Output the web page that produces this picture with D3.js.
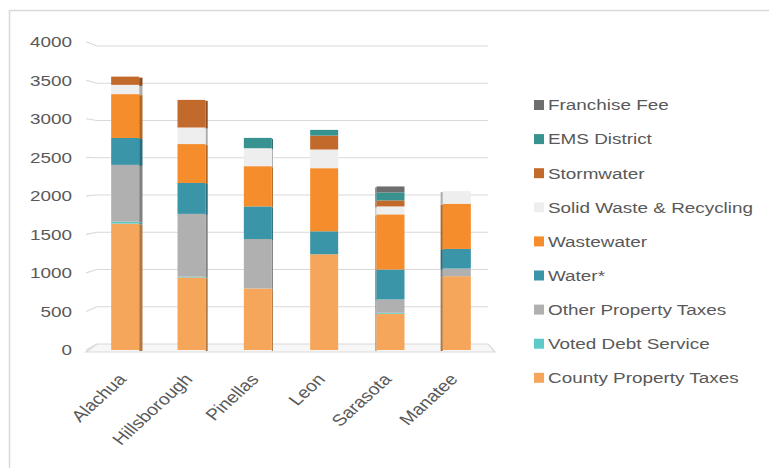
<!DOCTYPE html>
<html>
<head>
<meta charset="utf-8">
<script src="https://cdn.jsdelivr.net/npm/d3@7"></script>
<style>
  html, body { margin: 0; padding: 0; background: #fff; }
  svg { display: block; font-family: "Liberation Sans", Arial, sans-serif; }
</style>
</head>
<body>
<svg id="chart" width="769" height="468"></svg>
<script>
// Counties on the x axis
const counties = ["Alachua", "Hillsborough", "Pinellas", "Leon", "Sarasota", "Manatee"];

// Stacked components, bottom to top
const countyPropertyTaxes = [1640, 941, 798, 1242, 470, 958];
const votedDebtService    = [25, 10, 0, 0, 13, 0];
const otherPropertyTaxes  = [737, 815, 642, 0, 173, 99];
const water               = [349, 401, 423, 298, 388, 254];
const wastewater          = [569, 505, 522, 819, 716, 587];
const solidWaste          = [120, 215, 233, 242, 103, 163];
const stormwater          = [107, 358, 0, 181, 78, 0];
const emsDistrict         = [0, 0, 134, 74, 103, 0];
const franchiseFee        = [0, 0, 0, 0, 78, 0];

const yTicks = [0, 500, 1000, 1500, 2000, 2500, 3000, 3500, 4000];

const series = [
  { name: "County Property Taxes",     values: countyPropertyTaxes, color: "#f6a65a" },
  { name: "Voted Debt Service",        values: votedDebtService,    color: "#5ec9c9" },
  { name: "Other Property Taxes",      values: otherPropertyTaxes,  color: "#b0b0b0" },
  { name: "Water*",                    values: water,               color: "#3a95a8" },
  { name: "Wastewater",                values: wastewater,          color: "#f58d2d" },
  { name: "Solid Waste & Recycling",   values: solidWaste,          color: "#eeeeee" },
  { name: "Stormwater",                values: stormwater,          color: "#c2692c" },
  { name: "EMS District",              values: emsDistrict,         color: "#379290" },
  { name: "Franchise Fee",             values: franchiseFee,        color: "#6e6e6e" }
];

const svg = d3.select("#chart");
const textColor = "#595959";
const sx = 1.22; // horizontal text stretch

// outer frame
svg.append("rect")
  .attr("x", 9.5).attr("y", 10.5)
  .attr("width", 800).attr("height", 500)
  .attr("fill", "none").attr("stroke", "#d9d9d9").attr("stroke-width", 1.5);

// front-face value scale and back-wall scale (3D look)
const y = d3.scaleLinear().domain([0, 4000]).range([350, 41.7]);
const yWall = d3.scaleLinear().domain([0, 4000]).range([344, 46]);
const x = d3.scaleBand().domain(counties).range([92, 490]).padding(0);

const gridLeft = 97, gridRight = 488;

// back-wall gridlines and slanted ticks
const grid = svg.append("g");
yTicks.forEach(v => {
  if (v > 0) {
    grid.append("line")
      .attr("x1", gridLeft).attr("x2", gridRight)
      .attr("y1", yWall(v)).attr("y2", yWall(v))
      .attr("stroke", "#d9d9d9").attr("stroke-width", 1.2);
  }
  grid.append("line")
    .attr("x1", 86).attr("y1", y(v))
    .attr("x2", gridLeft).attr("y2", yWall(v))
    .attr("stroke", "#d9d9d9").attr("stroke-width", 1.2);
});

// floor
svg.append("polygon")
  .attr("points", [[86, y(0) + 2], [495, y(0) + 2], [gridRight, yWall(0)], [gridLeft, yWall(0)]].map(p => p.join(",")).join(" "))
  .attr("fill", "#f7f7f7").attr("stroke", "#d9d9d9").attr("stroke-width", 1.2);

// y labels
const yLab = svg.append("g");
yTicks.forEach(v => {
  yLab.append("text")
    .attr("transform", `translate(72,${y(v)}) scale(${sx},1)`)
    .attr("text-anchor", "end")
    .attr("dominant-baseline", "central")
    .attr("font-size", 15.5)
    .attr("fill", textColor)
    .text(v);
});

// stacked bars
const stack = counties.map((c, i) => {
  let acc = 0;
  return series.map(s => {
    const v = s.values[i];
    const seg = { county: c, y0: acc, y1: acc + v, color: s.color };
    acc += v;
    return seg;
  }).filter(d => d.y1 > d.y0);
});

const barW = 28;
const bars = svg.append("g");
stack.forEach((segs, i) => {
  const cx = x(counties[i]) + x.bandwidth() / 2;
  const side = (324 - cx) / 60; // visible side depth, right (+) or left (-)
  const g = bars.append("g");
  segs.forEach(d => {
    // side face
    if (Math.abs(side) > 0.5) {
      g.append("rect")
        .attr("x", side > 0 ? cx + barW / 2 : cx - barW / 2 + side)
        .attr("y", y(d.y1) + 1)
        .attr("width", Math.abs(side))
        .attr("height", y(d.y0) - y(d.y1))
        .attr("fill", d3.color(d.color).darker(0.9));
    }
    g.append("rect")
      .attr("x", cx - barW / 2)
      .attr("y", y(d.y1))
      .attr("width", barW)
      .attr("height", y(d.y0) - y(d.y1))
      .attr("fill", d.color);
  });
});

// category labels
const xLab = svg.append("g");
counties.forEach(c => {
  const cx = x(c) + x.bandwidth() / 2;
  xLab.append("text")
    .attr("transform", `translate(${cx + 2},${380}) scale(${sx},1) rotate(-48)`)
    .attr("text-anchor", "end")
    .attr("font-size", 16)
    .attr("fill", textColor)
    .text(c);
});

// legend, top item is the top of the stack
const legendItems = series.slice().reverse();
const legend = svg.append("g");
legendItems.forEach((s, i) => {
  const ly = 105 + i * 34.1;
  legend.append("rect")
    .attr("x", 534).attr("y", ly - 5)
    .attr("width", 10).attr("height", 10)
    .attr("fill", s.color);
  legend.append("text")
    .attr("transform", `translate(548,${ly}) scale(${sx},1)`)
    .attr("dominant-baseline", "central")
    .attr("font-size", 15.5)
    .attr("fill", textColor)
    .text(s.name);
});
</script>
</body>
</html>
